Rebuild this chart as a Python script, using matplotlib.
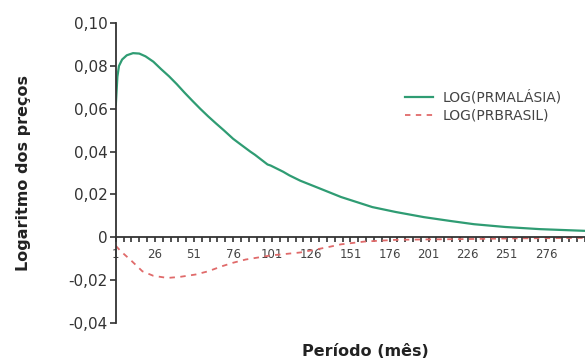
import matplotlib

matplotlib.use("Agg")
import matplotlib.pyplot as plt
import numpy as np

# values
periodo_malasia = [1, 2, 3, 5, 8, 12, 16, 20, 25, 30, 35, 40, 45, 50, 55, 60, 65,
                   70, 76, 80, 87, 90, 98, 100, 108, 112, 119, 130, 145, 165, 180,
                   198, 215, 230, 250, 272, 290, 301]
log_malasia = [0.062, 0.075, 0.080, 0.083, 0.085, 0.086, 0.0858, 0.0845, 0.082,
               0.0785, 0.0752, 0.0715, 0.0675, 0.0637, 0.060, 0.0565, 0.0532,
               0.050, 0.046, 0.0438, 0.040, 0.0385, 0.034, 0.0335, 0.0306, 0.0289,
               0.0264, 0.0232, 0.0188, 0.0141, 0.0118, 0.0094, 0.0076, 0.0061,
               0.0048, 0.0038, 0.0033, 0.0030]

periodo_brasil = [1, 4, 11, 18, 25, 34, 42, 52, 60, 69, 76, 84, 100, 119, 127, 138,
                  145, 160, 180, 200, 230, 260, 301]
log_brasil = [-0.004, -0.0064, -0.011, -0.0159, -0.018, -0.019, -0.0185, -0.0174,
              -0.0159, -0.0135, -0.0119, -0.0104, -0.0085, -0.0071, -0.006, -0.0044,
              -0.0033, -0.002, -0.0012, -0.001, -0.0008, -0.0005, -0.0003]

y_ticks = [-0.04, -0.02, 0, 0.02, 0.04, 0.06, 0.08, 0.10]
y_labels = ["-0,04", "-0,02", "0", "0,02", "0,04", "0,06", "0,08", "0,10"]
x_ticks = [1, 26, 51, 76, 101, 126, 151, 176, 201, 226, 251, 276]

plt.rcParams["font.family"] = ["DejaVu Sans"]

fig = plt.figure(figsize=(5.85, 3.62), dpi=100)
ax = fig.add_axes((0.198, 0.108, 0.802, 0.828))

ax.plot(periodo_malasia, log_malasia, color="#2f9c73", linewidth=1.6,
        label="LOG(PRMALÁSIA)")
ax.plot(periodo_brasil, log_brasil, color="#e06a6a", linewidth=1.3,
        linestyle=(0, (3, 3)), label="LOG(PRBRASIL)")

ax.set_xlim(1, 301)
ax.set_ylim(-0.04, 0.10)

for side in ("top", "right"):
    ax.spines[side].set_visible(False)
ax.spines["bottom"].set_position(("data", 0))
ax.spines["left"].set_linewidth(1.3)
ax.spines["bottom"].set_linewidth(1.3)
ax.spines["left"].set_color("#333333")
ax.spines["bottom"].set_color("#333333")

ax.set_yticks(y_ticks)
ax.set_yticklabels(y_labels, fontsize=11, color="#333333")
ax.set_xticks(x_ticks)
ax.set_xticklabels([str(t) for t in x_ticks], fontsize=8.5, color="#444444")
ax.set_xticks(np.arange(1, 302, 5), minor=True)
ax.tick_params(axis="y", direction="out", length=4, width=1.2, color="#333333", pad=2)
ax.tick_params(axis="x", which="both", direction="out", length=3.5, width=1.2,
               color="#333333", pad=4)

ax.set_ylabel("Logaritmo dos preços", fontsize=11.5, fontweight="bold",
              color="#222222")
ax.yaxis.set_label_coords(-0.18, 0.5)
fig.text(0.624, 0.028, "Período (mês)", fontsize=11.5, fontweight="bold",
         color="#222222", ha="center", va="center")

ax.legend(loc="upper left", bbox_to_anchor=(0.616, 0.776), frameon=False,
          fontsize=10, handlelength=2.0, handletextpad=0.7, labelspacing=0.3,
          borderpad=0, borderaxespad=0, labelcolor="#444444")

plt.savefig("out.png", dpi=100)
plt.close()
